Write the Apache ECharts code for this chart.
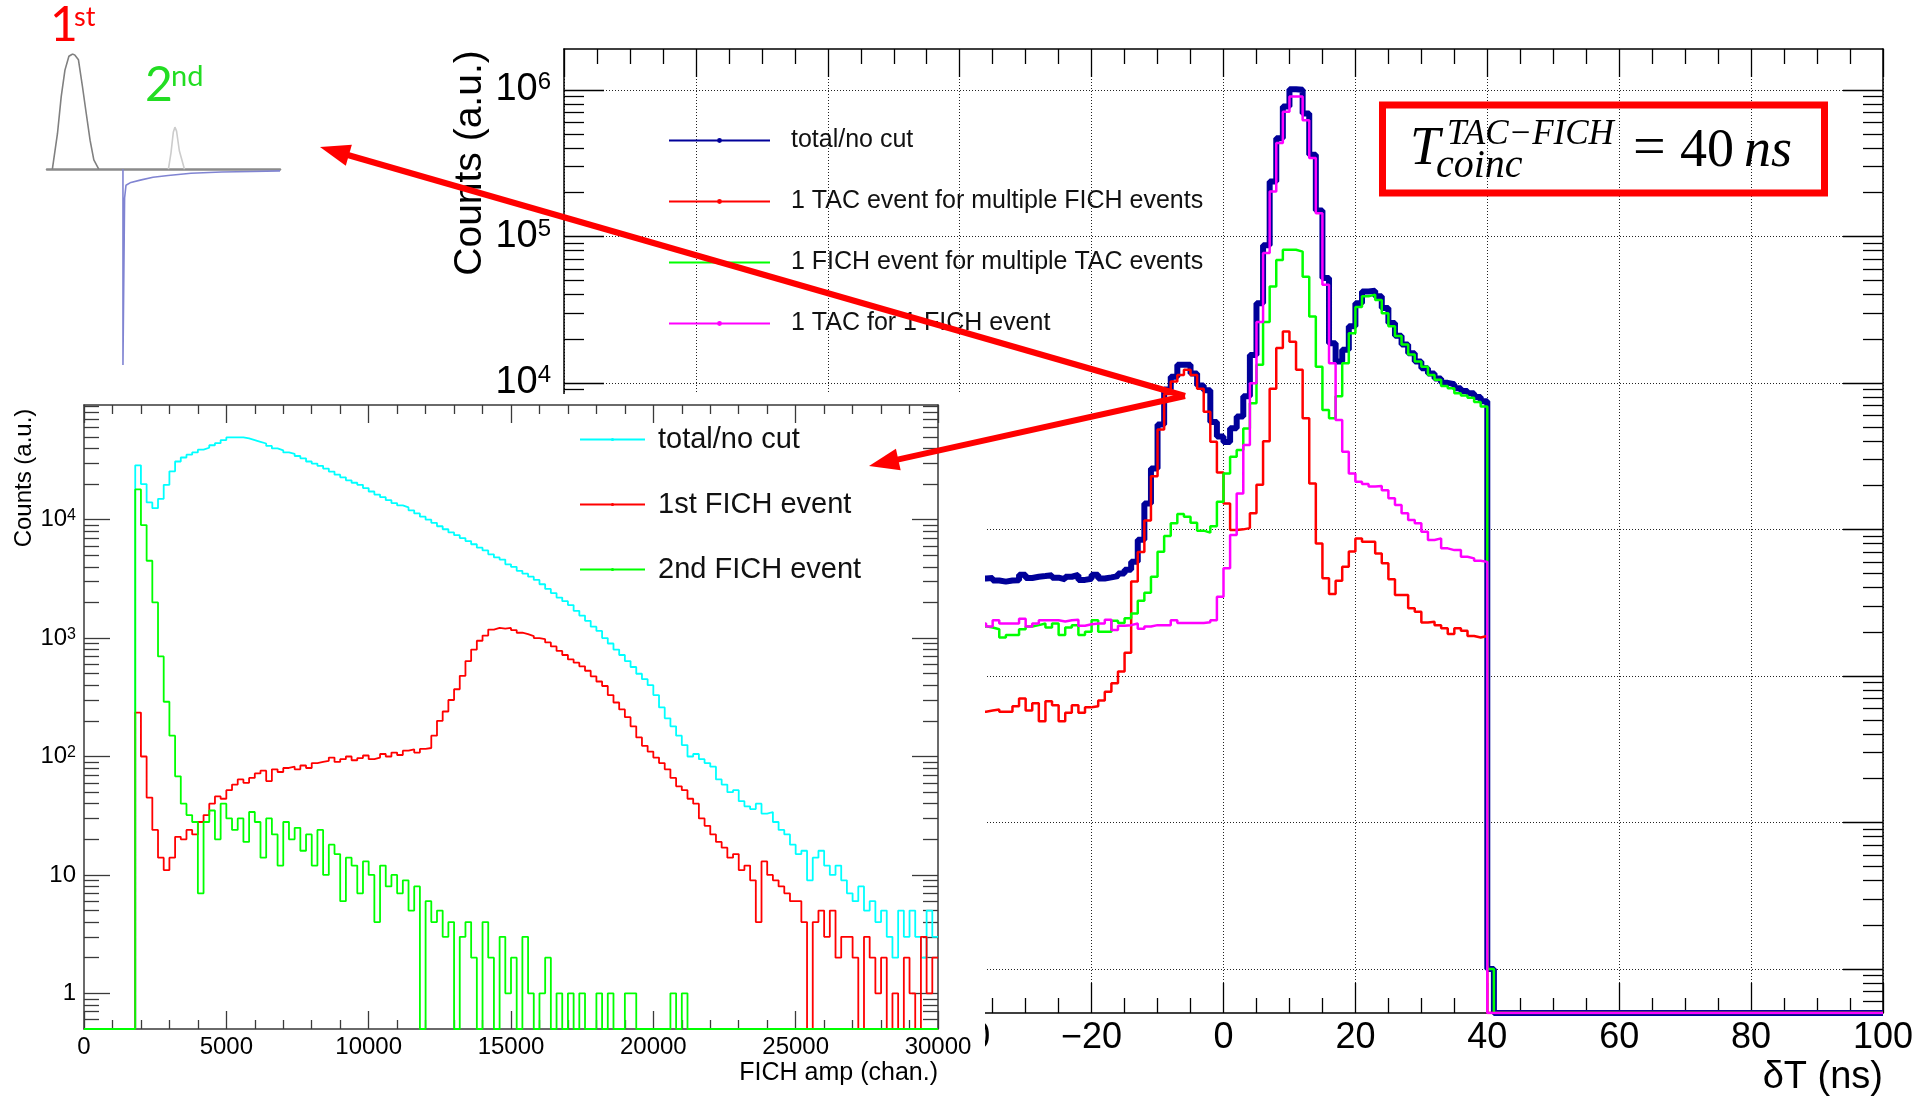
<!DOCTYPE html>
<html>
<head>
<meta charset="utf-8">
<script src="https://cdn.jsdelivr.net/npm/echarts@6/dist/echarts.min.js"></script>
<style>
  html, body { margin: 0; padding: 0; background: #fff; }
  #chart { width: 1923px; height: 1101px; }
</style>
</head>
<body>
<div id="chart"></div>
<script>
// ---------------------------------------------------------------------------
// Coincidence-time spectrum (dT, 1 ns bins, first listed bin starts at -40 ns)
// ---------------------------------------------------------------------------
const dtFirstEdge = -40;
const dtBinWidth = 1;
const dtLastEdge = 100;

const dtTotal = [
  470, 455, 478, 462, 465, 448, 440, 448, 450, 490,
  466, 475, 480, 486, 468, 455, 475, 488, 452, 460,
  490, 462, 470, 480, 500, 530, 600, 850, 1500, 2600,
  5200, 9000, 11000, 13300, 13300, 11600, 9600, 8900, 5400, 4300,
  3950, 4900, 5900, 8100, 15500, 35000, 87000, 237000, 468000, 770000,
  1010000, 1000000, 690000, 360000, 150000, 52000, 18600, 14000, 16800, 24300,
  35000, 42000, 42500, 39000, 32400, 25600, 21000, 18300, 15900, 14000,
  12600, 11600, 10700, 10000, 9800, 9200, 8800, 8500, 8000, 7500,
  1,
  0, 0, 0, 0, 0, 0, 0, 0, 0, 0,
  0, 0, 0, 0, 0, 0, 0, 0, 0, 0,
  0, 0, 0, 0, 0, 0, 0, 0, 0, 0,
  0, 0, 0, 0, 0, 0, 0, 0, 0, 0,
  0, 0, 0, 0, 0, 0, 0, 0, 0, 0,
  0, 0, 0, 0, 0, 0, 0, 0, 0
];
const dtOneTacManyFich = [
  60, 55, 62, 57, 58, 59, 57, 57, 62, 70,
  58, 65, 49, 67, 63, 49, 56, 63, 56, 61,
  62, 68, 78, 89, 107, 144, 440, 700, 1150, 2300,
  4800, 8400, 10200, 11300, 12300, 11300, 9100, 6350, 3970, 2440,
  1500, 990, 1000, 1020, 1290, 2020, 4000, 9100, 17300, 22400,
  19100, 12300, 5730, 2060, 802, 464, 362, 446, 556, 705,
  868, 824, 824, 685, 586, 456, 357, 357, 289, 274,
  231, 234, 222, 211, 193, 211, 203, 187, 183, 187,
  0,
  0, 0, 0, 0, 0, 0, 0, 0, 0, 0,
  0, 0, 0, 0, 0, 0, 0, 0, 0, 0,
  0, 0, 0, 0, 0, 0, 0, 0, 0, 0,
  0, 0, 0, 0, 0, 0, 0, 0, 0, 0,
  0, 0, 0, 0, 0, 0, 0, 0, 0, 0,
  0, 0, 0, 0, 0, 0, 0, 0, 0
];
const dtOneFichManyTac = [
  205, 220, 212, 218, 214, 208, 183, 190, 190, 208,
  217, 222, 228, 214, 228, 190, 214, 222, 190, 200,
  240, 200, 200, 238, 230, 247, 267, 326, 370, 475,
  704, 900, 1099, 1273, 1220, 1110, 980, 950, 1050, 1545,
  2410, 3130, 3480, 4890, 7250, 13300, 26000, 45500, 69000, 81000,
  81000, 78700, 53000, 28400, 12900, 6530, 5730, 8100, 13600, 21800,
  33000, 39000, 40000, 36800, 29900, 24300, 20900, 18300, 15600, 14000,
  12900, 11300, 10500, 9500, 9200, 8500, 8200, 7900, 7400, 6900,
  1,
  0, 0, 0, 0, 0, 0, 0, 0, 0, 0,
  0, 0, 0, 0, 0, 0, 0, 0, 0, 0,
  0, 0, 0, 0, 0, 0, 0, 0, 0, 0,
  0, 0, 0, 0, 0, 0, 0, 0, 0, 0,
  0, 0, 0, 0, 0, 0, 0, 0, 0, 0,
  0, 0, 0, 0, 0, 0, 0, 0, 0
];
const dtOneToOne = [
  225, 232, 220, 228, 217, 240, 228, 228, 228, 245,
  217, 228, 240, 240, 240, 235, 240, 242, 220, 225,
  228, 228, 242, 206, 220, 222, 228, 210, 217, 222,
  222, 222, 240, 230, 230, 230, 230, 232, 240, 347,
  542, 915, 1760, 3770, 9950, 26000, 77000, 202000, 433000, 710000,
  900000, 900000, 620000, 342000, 144000, 46700, 13600, 5570, 3390, 2410,
  2115, 2040, 1960, 1975, 1850, 1630, 1466, 1286, 1158, 1100,
  964, 846, 868, 742, 722, 722, 650, 634, 610, 600,
  0,
  0, 0, 0, 0, 0, 0, 0, 0, 0, 0,
  0, 0, 0, 0, 0, 0, 0, 0, 0, 0,
  0, 0, 0, 0, 0, 0, 0, 0, 0, 0,
  0, 0, 0, 0, 0, 0, 0, 0, 0, 0,
  0, 0, 0, 0, 0, 0, 0, 0, 0, 0,
  0, 0, 0, 0, 0, 0, 0, 0, 0
];
const dtLegendNames = [
  'total/no cut',
  '1 TAC event for multiple FICH events',
  '1 FICH event for multiple TAC events',
  '1 TAC for 1 FICH event'
];

// ---------------------------------------------------------------------------
// FICH amplitude spectrum (200-channel bins from 0 to 30000)
// ---------------------------------------------------------------------------
const ampFirstEdge = 0;
const ampBinWidth = 200;
const ampLastEdge = 30000;

const ampTotal = [
  0, 0, 0, 0, 0, 0, 0, 0, 0,
  28800, 20000, 14000, 12500, 15000, 19700, 25600, 31000, 33500, 35400, 37000,
  39000, 40500, 42500, 44300, 47000, 49500, 49500, 49500, 48500, 47000,
  45500, 44000, 42000, 40000, 38500, 37000, 36000, 34500, 33000, 31000,
  29800, 28500, 27000, 25500, 24000, 22800, 21500, 20500, 19700, 18500,
  17300, 16300, 15500, 14600, 13800, 13200, 12700, 12000, 11300, 10600,
  10000, 9400, 8800, 8300, 7800, 7400, 7000, 6600, 6200, 5800,
  5500, 5100, 4800, 4600, 4200, 4000, 3700, 3500, 3300, 3100,
  2850, 2600, 2400, 2200, 2050, 1900, 1700, 1550, 1400, 1250,
  1150, 1000, 900, 800, 720, 640, 570, 500, 450, 400,
  330, 260, 210, 180, 150, 125, 100, 105, 95, 88,
  82, 64, 58, 50, 52, 42, 38, 36, 40, 33,
  34, 28, 24, 22, 18, 15, 16, 9, 14, 16,
  12, 10, 12, 9, 7, 6, 8, 5, 6, 4,
  5, 3, 2, 5, 3, 5, 3, 2, 5, 3
];
const ampFirstEvent = [
  0, 0, 0, 0, 0, 0, 0, 0, 0,
  235,
  100, 45, 24, 14, 11, 14, 21, 20, 24, 22,
  28, 32, 40, 46, 44, 52, 58, 64, 60, 66,
  72, 76, 62, 78, 74, 80, 82, 78, 84, 80,
  88, 90, 92, 98, 90, 95, 100, 93, 97, 102,
  95, 98, 105, 100, 108, 103, 112, 115, 108, 116,
  118, 150, 200, 240, 300, 370, 480, 640, 800, 950,
  1050, 1180, 1220, 1200, 1220, 1170, 1110, 1080, 1040, 1000,
  980, 920, 850, 780, 720, 660, 620, 578, 530, 476,
  430, 394, 330, 286, 250, 215, 180, 145, 123, 110,
  98, 88, 78, 66, 56, 52, 44, 40, 30, 26,
  22, 19, 17, 14, 15, 11, 12, 9, 4, 13,
  10, 9, 8, 7, 6, 6, 4, 0, 4, 5,
  3, 5, 2, 3, 3, 2, 0, 3, 2, 1,
  2, 0, 1, 0, 2, 1, 0, 3, 1, 2
];
const ampSecondEvent = [
  0, 0, 0, 0, 0, 0, 0, 0, 0,
  18000, 9000, 4500, 2000, 700, 290, 150, 68, 40, 32, 28,
  7, 28, 35, 20, 40, 30, 24, 30, 19, 34,
  28, 14, 30, 22, 12, 28, 20, 25, 16, 22,
  12, 24, 10, 18, 15, 6, 14, 12, 7, 13,
  10, 4, 12, 8, 10, 7, 9, 5, 8, 0,
  6, 4, 5, 3, 4, 0, 3, 4, 2, 0,
  4, 2, 0, 3, 1, 2, 0, 3, 1, 0,
  1, 2, 0, 1, 0, 1, 0, 1, 0, 0,
  1, 0, 1, 0, 0, 1, 1, 0, 0, 0,
  0, 0, 0, 1, 0, 1, 0, 0, 0, 0,
  0, 0, 0, 0, 0, 0, 0, 0, 0, 0,
  0, 0, 0, 0, 0, 0, 0, 0, 0, 0,
  0, 0, 0, 0, 0, 0, 0, 0, 0, 0,
  0, 0, 0, 0, 0, 0, 0, 0, 0, 0
];
const ampLegendNames = ['total/no cut', '1st FICH event', '2nd FICH event'];

// ---------------------------------------------------------------------------
// Detector waveform sketch (arbitrary time / amplitude units)
// ---------------------------------------------------------------------------
const pulseFirst = [[2.3, 0], [4.5, 0.31], [6.1, 0.63], [7.7, 0.86], [9.4, 0.98], [11, 1.0], [12, 0.99],
  [13.5, 0.95], [15.2, 0.72], [16.8, 0.49], [18.5, 0.25], [20.1, 0.08], [22.2, 0]];
const pulseSecond = [[52.1, 0], [53.2, 0.14], [54.2, 0.32], [54.9, 0.365], [55.6, 0.33], [56.8, 0.16], [59, 0]];
const fichSignal = [[32.6, 0], [32.6, -1.7], [33.3, -0.25], [33.9, -0.14], [36, -0.115], [40, -0.095],
  [45.5, -0.07], [52, -0.055], [61.8, -0.035], [75, -0.025], [88, -0.02], [100, -0.015]];

// Axis tick values
const mainDecades = [1, 10, 100, 1e3, 1e4, 1e5, 1e6];
const insetDecades = [1, 10, 100, 1e3, 1e4];

// ---------------------------------------------------------------------------
const FONT = '"Liberation Sans", Arial, Helvetica, sans-serif';
const SERIF = '"Liberation Serif", "DejaVu Serif", serif';
const MAIN_MIN = 0.5, MAIN_MAX = 1.9e6;
const INSET_MIN = 0.5, INSET_MAX = 9.3e4;

// Histogram contour: one point per bin low edge plus the closing upper edge.
// Empty bins sit on the lower frame of the log axis.
function histPoints(firstEdge, width, values, lastEdge, floor) {
  const pts = values.map((v, i) => [firstEdge + i * width, v > 0 ? v : floor]);
  pts.push([lastEdge, pts[pts.length - 1][1]]);
  return pts;
}

function minorLogTicks(lo, hi) {
  const out = [];
  for (let k = -1; k <= 7; k++) {
    for (let m = 2; m <= 9; m++) {
      const v = +(m * Math.pow(10, k)).toPrecision(6);
      if (v > lo && v < hi) out.push(v);
    }
  }
  return out;
}

function powerLabel(v) {
  const k = Math.round(Math.log10(v));
  if (k === 0) return '1';
  if (k === 1) return '10';
  return '{b|10}{e|' + k + '}';
}

function minusLabel(v) {
  return v < 0 ? '\u2212' + (-v) : String(v);
}

const mainMinor = minorLogTicks(MAIN_MIN, MAIN_MAX);
const insetMinor = minorLogTicks(INSET_MIN, INSET_MAX);

const dotted = { show: true, lineStyle: { type: [1, 2], color: '#222', width: 1 } };

function logAxis(grid, pos, min, max, opts) {
  return Object.assign({
    gridIndex: grid, type: 'log', logBase: 10, min: min, max: max, position: pos,
    axisLine: { show: false, onZero: false },
    axisTick: { show: false },
    axisLabel: { show: false },
    splitLine: { show: false }
  }, opts);
}

const mainColor = '#000';
const insetColor = '#3a3a3a';

const yAxes = [
  // main chart, left: decades + labels + grid
  logAxis(0, 'left', MAIN_MIN, MAIN_MAX, {
    z: 1,
    axisLine: { show: true, onZero: false, lineStyle: { color: mainColor, width: 1.5 } },
    axisTick: { show: true, inside: true, length: 40, customValues: mainDecades, lineStyle: { color: mainColor, width: 1.3 } },
    axisLabel: {
      show: true, customValues: mainDecades, formatter: powerLabel, margin: 13,
      fontSize: 38, fontFamily: FONT, color: '#000',
      rich: { b: { fontSize: 38, fontFamily: FONT, color: '#000' },
              e: { fontSize: 24, fontFamily: FONT, color: '#000', verticalAlign: 'top' } }
    },
    splitLine: dotted
  }),
  logAxis(0, 'left', MAIN_MIN, MAIN_MAX, {
    z: 1,
    axisTick: { show: true, inside: true, length: 20, customValues: mainMinor, lineStyle: { color: mainColor, width: 1.3 } }
  }),
  logAxis(0, 'right', MAIN_MIN, MAIN_MAX, {
    z: 1,
    axisLine: { show: true, onZero: false, lineStyle: { color: mainColor, width: 1.5 } },
    axisTick: { show: true, inside: true, length: 40, customValues: mainDecades, lineStyle: { color: mainColor, width: 1.3 } }
  }),
  logAxis(0, 'right', MAIN_MIN, MAIN_MAX, {
    z: 1,
    axisTick: { show: true, inside: true, length: 20, customValues: mainMinor, lineStyle: { color: mainColor, width: 1.3 } }
  }),
  // inset chart
  logAxis(1, 'left', INSET_MIN, INSET_MAX, {
    z: 6,
    axisLine: { show: true, onZero: false, lineStyle: { color: insetColor, width: 1.5 } },
    axisTick: { show: true, inside: true, length: 26, customValues: insetDecades, lineStyle: { color: insetColor, width: 1.3 } },
    axisLabel: {
      show: true, customValues: insetDecades, formatter: powerLabel, margin: 8,
      fontSize: 24, fontFamily: FONT, color: '#000',
      rich: { b: { fontSize: 24, fontFamily: FONT, color: '#000' },
              e: { fontSize: 16, fontFamily: FONT, color: '#000', verticalAlign: 'top' } }
    }
  }),
  logAxis(1, 'left', INSET_MIN, INSET_MAX, {
    z: 6,
    axisTick: { show: true, inside: true, length: 15, customValues: insetMinor, lineStyle: { color: insetColor, width: 1.3 } }
  }),
  logAxis(1, 'right', INSET_MIN, INSET_MAX, {
    z: 6,
    axisLine: { show: true, onZero: false, lineStyle: { color: insetColor, width: 1.5 } },
    axisTick: { show: true, inside: true, length: 26, customValues: insetDecades, lineStyle: { color: insetColor, width: 1.3 } }
  }),
  logAxis(1, 'right', INSET_MIN, INSET_MAX, {
    z: 6,
    axisTick: { show: true, inside: true, length: 15, customValues: insetMinor, lineStyle: { color: insetColor, width: 1.3 } }
  }),
  // waveform sketch
  { gridIndex: 2, type: 'value', min: -1.7, max: 1.0, show: false }
];

function linearAxis(grid, pos, min, max, interval, major, minor, split, color, z, label) {
  return {
    gridIndex: grid, type: 'value', min: min, max: max, interval: interval, position: pos, z: z,
    axisLine: { show: true, onZero: false, lineStyle: { color: color, width: 1.5 } },
    axisTick: { show: true, inside: true, length: major, lineStyle: { color: color, width: 1.3 } },
    minorTick: { show: true, splitNumber: split, length: minor, lineStyle: { color: color, width: 1.3 } },
    axisLabel: label || { show: false },
    splitLine: { show: false },
    minorSplitLine: { show: false }
  };
}

const mainBottom = linearAxis(0, 'bottom', -100, 100, 20, 30, 15, 4, mainColor, 1, {
  show: true, formatter: minusLabel, fontSize: 36, fontFamily: FONT, color: '#000', margin: 7
});
mainBottom.splitLine = dotted;

const xAxes = [
  mainBottom,
  linearAxis(0, 'top', -100, 100, 20, 28, 15, 4, mainColor, 1),
  linearAxis(1, 'bottom', 0, 30000, 5000, 18, 9, 5, insetColor, 6, {
    show: true, formatter: v => String(v), fontSize: 24, fontFamily: FONT, color: '#000', margin: 6
  }),
  linearAxis(1, 'top', 0, 30000, 5000, 18, 9, 5, insetColor, 6),
  { gridIndex: 2, type: 'value', min: 0, max: 100, z: 1,
    axisLine: { show: true, onZero: true, lineStyle: { color: '#8a8a8a', width: 2.5 } },
    axisTick: { show: false }, axisLabel: { show: false }, splitLine: { show: false } }
];

const mainDefs = [
  { values: dtTotal, color: '#000099', width: 6 },
  { values: dtOneTacManyFich, color: '#ff0000', width: 2.5 },
  { values: dtOneFichManyTac, color: '#00ff00', width: 2.5 },
  { values: dtOneToOne, color: '#ff00ff', width: 2.5 }
];
const insetDefs = [
  { values: ampTotal, color: '#00ffff', width: 1.8 },
  { values: ampFirstEvent, color: '#ff0000', width: 1.8 },
  { values: ampSecondEvent, color: '#00ff00', width: 1.8 }
];

const series = [];
mainDefs.forEach((d, i) => {
  series.push({
    type: 'line', name: dtLegendNames[i], xAxisIndex: 0, yAxisIndex: 0, z: 2,
    data: histPoints(dtFirstEdge, dtBinWidth, d.values, dtLastEdge, MAIN_MIN),
    step: 'end', symbol: 'none', silent: true,
    lineStyle: { color: d.color, width: d.width }, itemStyle: { color: d.color }
  });
});
// FICH-amplitude series carry their own ids; the legend prints the plain label.
const insetIds = ampLegendNames.map(n => 'amp:' + n);
insetDefs.forEach((d, i) => {
  series.push({
    type: 'line', name: insetIds[i], xAxisIndex: 2, yAxisIndex: 4, z: 7,
    data: histPoints(ampFirstEdge, ampBinWidth, d.values, ampLastEdge, INSET_MIN),
    step: 'end', symbol: 'none', silent: true,
    lineStyle: { color: d.color, width: d.width }, itemStyle: { color: d.color }
  });
});
[
  { data: pulseFirst, color: '#808080' },
  { data: pulseSecond, color: '#cccccc' },
  { data: fichSignal, color: '#8084d2' }
].forEach(s => {
  series.push({
    type: 'line', xAxisIndex: 4, yAxisIndex: 8, z: 2, data: s.data, symbol: 'none', silent: true,
    lineStyle: { color: s.color, width: 1.6 }
  });
});

// Arrow annotation: shaft plus a filled head at (x1, y1)
function arrow(x0, y0, x1, y1) {
  const dx = x1 - x0, dy = y1 - y0, len = Math.hypot(dx, dy);
  const ux = dx / len, uy = dy / len, L = 30, W = 11;
  const bx = x1 - ux * L, by = y1 - uy * L;
  return [
    { type: 'line', z: 20, shape: { x1: x0, y1: y0, x2: bx + ux * 2, y2: by + uy * 2 },
      style: { stroke: '#ff0000', lineWidth: 6 } },
    { type: 'polygon', z: 20,
      shape: { points: [[x1, y1], [bx - uy * W, by + ux * W], [bx + uy * W, by - ux * W]] },
      style: { fill: '#ff0000' } }
  ];
}

function label(text, x, y, font, fill, opts) {
  return Object.assign({ type: 'text', x: x, y: y, z: 10,
    style: Object.assign({ text: text, font: font, fill: fill || '#000', align: 'left', verticalAlign: 'middle' }, (opts && opts.style) || {}) },
    opts && opts.el ? opts.el : {});
}

const SKETCH_FONT = 'Lato, "Open Sans", sans-serif';
const graphics = [
  // inset panel background
  { type: 'rect', z: 5, shape: { x: 0, y: 394, width: 985, height: 707 }, style: { fill: '#fff' } },
  // axis titles
  label('Counts (a.u.)', 470, 163, '39px ' + FONT, '#000', { style: { align: 'center' }, el: { rotation: Math.PI / 2, z: 3 } }),
  label('\u03B4T (ns)', 1883, 1078, '38px ' + FONT, '#000', { style: { align: 'right' }, el: { z: 3 } }),
  label('Counts (a.u.)', 24, 478, '24px ' + FONT, '#000', { style: { align: 'center' }, el: { rotation: Math.PI / 2, z: 8 } }),
  label('FICH amp (chan.)', 938, 1073, '25px ' + FONT, '#000', { style: { align: 'right' }, el: { z: 8 } }),
  // coincidence window box
  { type: 'rect', z: 10, shape: { x: 1382.5, y: 105, width: 442, height: 88 },
    style: { fill: 'none', stroke: '#ff0000', lineWidth: 7 } },
  label('T', 1410, 150, 'italic 54px ' + SERIF),
  label('TAC\u2212FICH', 1447, 135, 'italic 35px ' + SERIF),
  label('coinc', 1436, 166, 'italic 40px ' + SERIF),
  label('=', 1633, 150, '58px ' + SERIF),
  label('40', 1680, 152, '54px ' + SERIF),
  label('ns', 1744, 152, 'italic 54px ' + SERIF),
  // waveform sketch annotations
  label('1', 50, 26, '48px ' + SKETCH_FONT, '#ff0000'),
  label('st', 74, 17, '27px ' + SKETCH_FONT, '#ff0000'),
  label('2', 145, 86, '48px ' + SKETCH_FONT, '#22dd22'),
  label('nd', 171, 77, '29px ' + SKETCH_FONT, '#22dd22')
].concat(arrow(1185, 396, 320, 147), arrow(1185, 396, 869, 466));

const option = {
  animation: false,
  backgroundColor: '#fff',
  grid: [
    { left: 564, top: 49, width: 1319, height: 964, show: false },
    { left: 84, top: 405, width: 854, height: 624, show: false },
    { left: 47, top: 54, width: 233, height: 311, show: false }
  ],
  xAxis: xAxes,
  yAxis: yAxes,
  legend: [
    {
      data: dtLegendNames, orient: 'vertical', left: 668, top: 128, z: 4, padding: 0,
      itemWidth: 101, itemHeight: 6, itemGap: 36, selectedMode: false,
      textStyle: { fontSize: 25, fontFamily: FONT, color: '#111', padding: [0, 0, 0, 16] }
    },
    {
      data: insetIds, orient: 'vertical', left: 579, top: 425, z: 8, padding: 0,
      itemWidth: 65, itemHeight: 4, itemGap: 36, selectedMode: false,
      formatter: name => name.slice(4),
      textStyle: { fontSize: 29, fontFamily: FONT, color: '#111', padding: [0, 0, 0, 8] }
    }
  ],
  graphic: { elements: graphics },
  series: series
};

const chart = echarts.init(document.getElementById('chart'), null, { renderer: 'canvas' });
chart.setOption(option);
</script>
</body>
</html>
